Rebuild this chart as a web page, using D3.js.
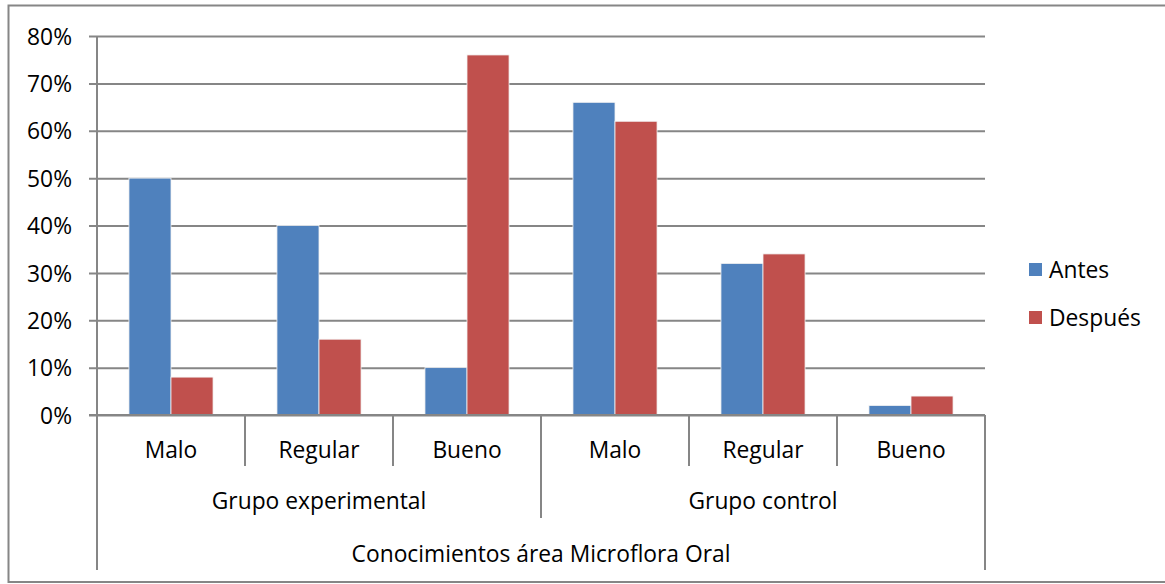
<!DOCTYPE html>
<html>
<head>
<meta charset="utf-8">
<script src="https://cdn.jsdelivr.net/npm/d3@7"></script>
<style>
  html, body { margin: 0; padding: 0; background: #fff; }
  svg text { font-family: "Open Sans", Lato, sans-serif; fill: #000; }
</style>
</head>
<body>
<svg id="chart" width="1165" height="584"></svg>
<script>
// Knowledge level per group, before and after (share of participants)
const categories = ["Malo", "Regular", "Bueno", "Malo", "Regular", "Bueno"];
const groups = ["Grupo experimental", "Grupo control"];
const groupOf = [0, 0, 0, 1, 1, 1];
const seriesNames = ["Antes", "Después"];
const antes = [0.50, 0.40, 0.10, 0.66, 0.32, 0.02];
const despues = [0.08, 0.16, 0.76, 0.62, 0.34, 0.04];
const yTicks = [0, 0.1, 0.2, 0.3, 0.4, 0.5, 0.6, 0.7, 0.8];
const axisTitle = "Conocimientos área Microflora Oral";
const colors = ["#4F81BD", "#C0504D"];

const svg = d3.select("#chart");
const gridColor = "#868686";
const fontSize = 22.8;

// outer frame
svg.append("rect")
  .attr("x", 8.5).attr("y", 5.5)
  .attr("width", 1170).attr("height", 576.5)
  .attr("fill", "none").attr("stroke", gridColor).attr("stroke-width", 2);

const plotLeft = 97, plotRight = 985, plotTop = 36, plotBottom = 415;

const x = d3.scaleBand().domain(d3.range(categories.length)).range([plotLeft, plotRight]).padding(0);
const xs = d3.scaleBand().domain(seriesNames).range([0, x.bandwidth()])
  .paddingInner(0).paddingOuter(0.76);
const y = d3.scaleLinear().domain([0, 0.8]).range([plotBottom, plotTop]);

// gridlines + y ticks
const yAxis = d3.axisLeft(y).tickValues(yTicks).tickFormat(d3.format(".0%"))
  .tickSize(-(plotRight - plotLeft)).tickSizeOuter(0).tickPadding(25);
const gy = svg.append("g").attr("transform", `translate(${plotLeft},0)`).call(yAxis);
gy.select(".domain").remove();
gy.selectAll(".tick line")
  .attr("x1", -8).attr("x2", plotRight - plotLeft)
  .attr("stroke", gridColor).attr("stroke-width", 2);
gy.selectAll(".tick text").attr("font-size", fontSize).attr("fill", "#000").attr("dy", "0.36em")
  .style("font-family", "'Open Sans', sans-serif");

// bars
const data = categories.map((c, i) => ({ i, values: [antes[i], despues[i]] }));
const cat = svg.append("g").selectAll("g").data(data).join("g")
  .attr("transform", d => `translate(${x(d.i)},0)`);
cat.selectAll("rect").data(d => d.values.map((v, k) => ({ v, k })))
  .join("rect")
  .attr("x", d => xs(seriesNames[d.k]))
  .attr("width", xs.bandwidth())
  .attr("y", d => y(d.v))
  .attr("height", d => y(0) - y(d.v))
  .attr("fill", d => colors[d.k])
  .attr("stroke", "#f3f3f3").attr("stroke-width", 0.8);

// axes lines
const axisG = svg.append("g").attr("stroke", gridColor).attr("stroke-width", 2);
axisG.append("line").attr("x1", plotLeft).attr("x2", plotLeft).attr("y1", plotTop).attr("y2", 570);
axisG.append("line").attr("x1", plotLeft - 8).attr("x2", plotRight).attr("y1", plotBottom).attr("y2", plotBottom);
axisG.append("line").attr("x1", plotRight).attr("x2", plotRight).attr("y1", plotBottom).attr("y2", 570);
// dividers between categories
d3.range(1, categories.length).forEach(i => {
  const isGroupEdge = groupOf[i] !== groupOf[i - 1];
  axisG.append("line").attr("x1", x(i)).attr("x2", x(i))
    .attr("y1", plotBottom).attr("y2", isGroupEdge ? 518 : 466);
});

// category labels
svg.append("g").selectAll("text").data(categories).join("text")
  .attr("x", (d, i) => x(i) + x.bandwidth() / 2)
  .attr("y", 458)
  .attr("text-anchor", "middle").attr("font-size", fontSize)
  .text(d => d);

// group labels
svg.append("g").selectAll("text").data(groups).join("text")
  .attr("x", (d, g) => {
    const idx = d3.range(categories.length).filter(i => groupOf[i] === g);
    return (x(idx[0]) + x(idx[idx.length - 1]) + x.bandwidth()) / 2;
  })
  .attr("y", 509)
  .attr("text-anchor", "middle").attr("font-size", fontSize)
  .text(d => d);

// axis title
svg.append("text").attr("x", (plotLeft + plotRight) / 2).attr("y", 562)
  .attr("text-anchor", "middle").attr("font-size", fontSize).text(axisTitle);

// legend
const lg = svg.append("g").selectAll("g").data(seriesNames).join("g")
  .attr("transform", (d, k) => `translate(1029,${270 + k * 48})`);
lg.append("rect").attr("x", 0).attr("y", -7).attr("width", 13).attr("height", 13)
  .attr("fill", (d, k) => colors[k]);
lg.append("text").attr("x", 20).attr("y", 0).attr("dy", "0.36em")
  .attr("font-size", fontSize).text(d => d);
</script>
</body>
</html>
